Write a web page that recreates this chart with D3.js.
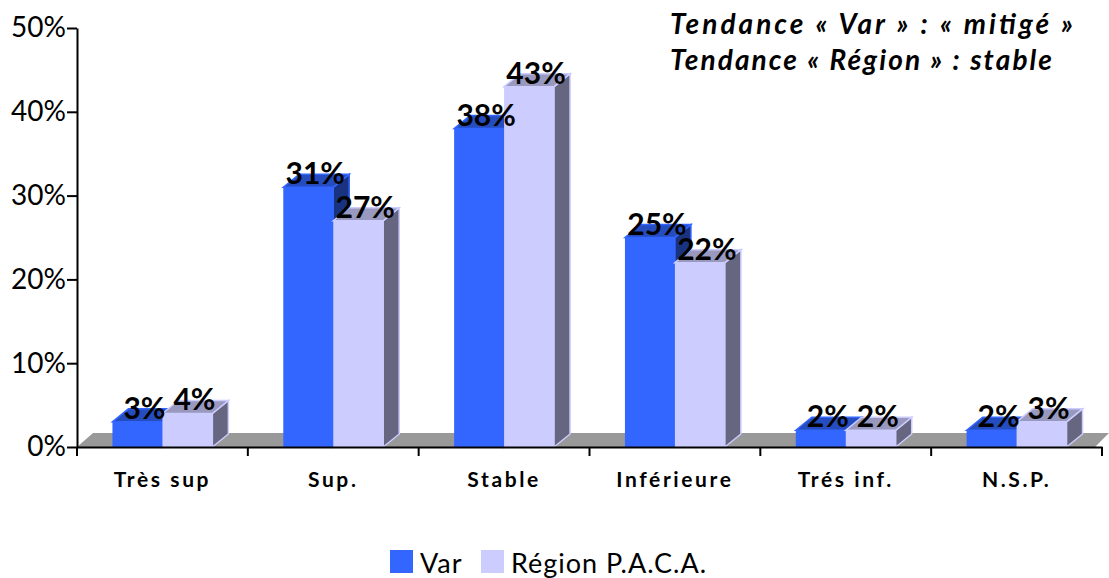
<!DOCTYPE html>
<html>
<head>
<meta charset="utf-8">
<script src="https://cdn.jsdelivr.net/npm/d3@7"></script>
<style>
  html, body { margin: 0; background: #fff; }
  svg { display: block; }
  text { font-family: "Comic Sans MS", Lato, "Open Sans", sans-serif; fill: #000; }
</style>
</head>
<body>
<div id="chart"></div>
<script>
const categories = ['Très sup', 'Sup.', 'Stable', 'Inférieure', 'Trés inf.', 'N.S.P.'];
const seriesNames = ['Var', 'Région P.A.C.A.'];
const varValues = [3, 31, 38, 25, 2, 2];
const regionValues = [4, 27, 43, 22, 2, 3];
const yTicks = [0, 10, 20, 30, 40, 50];
const notes = ['Tendance « Var » : « mitigé »', 'Tendance « Région » : stable'];

const width = 1109, height = 578;
const plotLeft = 77, plotRight = 1102, plotTop = 28, plotBottom = 447;
const depthX = 16, depthY = 13; // fake 3D offset
const noteWidths = [403, 382];

// front, side and top colours per series
const palette = [
  { front: '#3366ff', top: '#264dbf', side: '#1a3380', edge: '#3366ff' },
  { front: '#ccccff', top: '#9999bf', side: '#666680', edge: '#ccccff' }
];

const svg = d3.select('#chart').append('svg')
  .attr('width', width)
  .attr('height', height);

const x = d3.scaleBand()
  .domain(categories)
  .range([plotLeft, plotRight])
  .paddingInner(0.415)
  .paddingOuter(0.2075);

const xs = d3.scaleBand()
  .domain(seriesNames)
  .range([0, x.bandwidth()]);

const y = d3.scaleLinear().domain([0, 50]).range([plotBottom, plotTop]);

const rows = categories.flatMap((c, i) => [
  { cat: c, s: 0, value: varValues[i] },
  { cat: c, s: 1, value: regionValues[i] }
]);

// Floor
svg.append('polygon')
  .attr('points', [
    [plotLeft, plotBottom],
    [plotLeft + depthX, plotBottom - depthY - 1],
    [width, plotBottom - depthY - 1],
    [width - depthX + 2, plotBottom]
  ].join(' '))
  .attr('fill', '#999999');

// Bars
const bars = svg.selectAll('.bar')
  .data(rows)
  .enter()
  .append('g')
  .attr('class', 'bar');

const x0 = d => x(d.cat) + xs(seriesNames[d.s]);
const x1 = d => x0(d) + xs.bandwidth();

bars.append('polygon')
  .attr('points', d => [
    [x1(d), y(d.value)],
    [x1(d) + depthX, y(d.value) - depthY],
    [x1(d) + depthX, plotBottom - depthY],
    [x1(d), plotBottom]
  ].join(' '))
  .attr('fill', d => palette[d.s].side)
  .attr('stroke', d => palette[d.s].edge)
  .attr('stroke-width', 1.5);

bars.append('polygon')
  .attr('points', d => [
    [x0(d), y(d.value)],
    [x0(d) + depthX, y(d.value) - depthY],
    [x1(d) + depthX, y(d.value) - depthY],
    [x1(d), y(d.value)]
  ].join(' '))
  .attr('fill', d => palette[d.s].top)
  .attr('stroke', d => palette[d.s].edge)
  .attr('stroke-width', 1.5);

bars.append('rect')
  .attr('x', x0)
  .attr('y', d => y(d.value))
  .attr('width', xs.bandwidth())
  .attr('height', d => plotBottom - y(d.value))
  .attr('fill', d => palette[d.s].front);

// Axes
const yAxis = svg.append('g')
  .attr('transform', `translate(${plotLeft},0)`)
  .call(d3.axisLeft(y).tickValues(yTicks).tickFormat(d => `${d}%`).tickSize(10).tickSizeOuter(0));

yAxis.selectAll('line, path').attr('stroke', '#000').attr('stroke-width', 2);
yAxis.selectAll('text')
  .attr('x', -11)
  .style('font-family', '"Comic Sans MS", Lato, sans-serif')
  .style('font-size', '28px');

const xAxis = svg.append('g')
  .attr('transform', `translate(0,${plotBottom})`)
  .call(d3.axisBottom(x).tickSize(0).tickPadding(25));

xAxis.select('path').attr('stroke', '#000').attr('stroke-width', 2);
xAxis.selectAll('text')
  .style('font-family', '"Comic Sans MS", Lato, sans-serif')
  .style('font-size', '21px')
  .style('font-weight', 'bold')
  .style('letter-spacing', '2.6px');

// category ticks sit on the band edges
xAxis.selectAll('.edge')
  .data(d3.range(categories.length + 1))
  .enter()
  .append('line')
  .attr('class', 'edge')
  .attr('x1', i => plotLeft + i * x.step())
  .attr('x2', i => plotLeft + i * x.step())
  .attr('y1', 0)
  .attr('y2', 9)
  .attr('stroke', '#000')
  .attr('stroke-width', 2);

// Value labels
svg.selectAll('.label')
  .data(rows)
  .enter()
  .append('text')
  .attr('class', 'label')
  .attr('x', d => x0(d) + xs.bandwidth() / 2 + 7)
  .attr('y', d => y(d.value) - 3)
  .attr('text-anchor', 'middle')
  .style('font-size', '30px')
  .style('font-weight', 'bold')
  .text(d => `${d.value}%`);

// Trend notes
svg.selectAll('.note')
  .data(notes)
  .enter()
  .append('text')
  .attr('class', 'note')
  .attr('x', 670)
  .attr('y', (d, i) => 34 + i * 36)
  .attr('textLength', (d, i) => noteWidths[i])
  .attr('lengthAdjust', 'spacing')
  .style('font-size', '28px')
  .style('font-weight', 'bold')
  .style('font-style', 'italic')
  .text(d => d);

// Legend
const legendX = [390, 481];
const legend = svg.selectAll('.legend')
  .data(seriesNames)
  .enter()
  .append('g')
  .attr('class', 'legend')
  .attr('transform', (d, i) => `translate(${legendX[i]},550)`);

legend.append('rect')
  .attr('width', 23)
  .attr('height', 23)
  .attr('fill', (d, i) => palette[i].front);

legend.append('text')
  .attr('x', 30)
  .attr('y', 23)
  .style('font-size', '27px')
  .style('letter-spacing', '1px')
  .text(d => d);
</script>
</body>
</html>
